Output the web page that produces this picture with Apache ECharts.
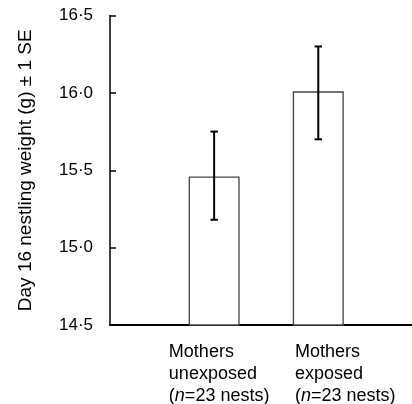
<!DOCTYPE html>
<html>
<head>
<meta charset="utf-8">
<script src="https://cdn.jsdelivr.net/npm/echarts@6/dist/echarts.min.js"></script>
<style>
  html, body { margin: 0; padding: 0; background: #fff; }
  #chart { width: 412px; height: 404px; }
</style>
</head>
<body>
<div id="chart"></div>
<script>
// groups shown on the x axis (value 1, 2)
const groups = ['unexposed', 'exposed']
const groupPos = [1, 2]
// mean day 16 nestling weight (g)
const means = [15.46, 16.01]
// mean - 1 SE / mean + 1 SE
const seLow = [15.18, 15.70]
const seHigh = [15.75, 16.30]
const nestCounts = [23, 23]
const yTicks = ['14·5', '15·0', '15·5', '16·0', '16·5']

const myChart = echarts.init(document.getElementById('chart'))
const font = "'Liberation Sans', Arial, Helvetica, sans-serif"

// each label gets its own left padding so the text blocks sit like in the figure
const labelPad = [10, 54]

const option = {
  animation: false,
  grid: {
    left: 110,
    right: 0,
    top: 15.5,
    bottom: 79,
    outerBoundsMode: 'none'
  },
  xAxis: {
    type: 'value',
    min: 0,
    max: 2.9,
    interval: 1,
    splitLine: { show: false },
    axisTick: { show: false },
    axisLine: {
      show: true,
      lineStyle: { color: '#000', width: 2 }
    },
    axisLabel: {
      margin: 16,
      showMaxLabel: false,
      formatter: function (v) {
        const k = groupPos.indexOf(v)
        if (k < 0) return ''
        const p = 'p' + k
        return '{' + p + '|Mothers}\n{' + p + '|' + groups[k] + '}\n{' + p + '|(}{i|n}{t|=' + nestCounts[k] + ' nests)}'
      },
      rich: {
        p0: { fontSize: 18, fontFamily: font, color: '#000', lineHeight: 22, align: 'left', padding: [0, 0, 0, labelPad[0]] },
        p1: { fontSize: 18, fontFamily: font, color: '#000', lineHeight: 22, align: 'left', padding: [0, 0, 0, labelPad[1]] },
        t: { fontSize: 18, fontFamily: font, color: '#000', lineHeight: 22, align: 'left' },
        i: { fontSize: 18, fontFamily: font, color: '#000', lineHeight: 22, align: 'left', fontStyle: 'italic' }
      }
    }
  },
  yAxis: {
    type: 'value',
    min: 14.5,
    max: 16.5,
    interval: 0.5,
    name: 'Day 16 nestling weight (g) ± 1 SE',
    nameLocation: 'middle',
    nameRotate: 90,
    nameGap: 75,
    nameTextStyle: { fontSize: 19, fontFamily: font, color: '#000' },
    splitLine: { show: false },
    axisLine: {
      show: true,
      lineStyle: { color: '#000', width: 1.5 }
    },
    axisTick: {
      show: true,
      inside: true,
      length: 6,
      lineStyle: { color: '#000', width: 1.5 }
    },
    axisLabel: {
      margin: 17,
      fontSize: 17,
      fontFamily: font,
      color: '#000',
      formatter: function (v) {
        return yTicks[Math.round((v - 14.5) / 0.5)]
      }
    }
  },
  series: [
    {
      type: 'bar',
      barWidth: 51,
      itemStyle: {
        color: '#fff',
        borderColor: '#444',
        borderWidth: 1.3
      },
      data: groupPos.map((x, i) => [x, means[i]])
    },
    {
      type: 'custom',
      z: 5,
      renderItem: function (params, api) {
        const lo = api.coord([api.value(0), api.value(1)])
        const hi = api.coord([api.value(0), api.value(2)])
        const cap = 3.7
        const style = { stroke: '#000', lineWidth: 2 }
        return {
          type: 'group',
          children: [
            { type: 'line', shape: { x1: lo[0], y1: lo[1], x2: hi[0], y2: hi[1] }, style: style },
            { type: 'line', shape: { x1: lo[0] - cap, y1: lo[1], x2: lo[0] + cap, y2: lo[1] }, style: style },
            { type: 'line', shape: { x1: hi[0] - cap, y1: hi[1], x2: hi[0] + cap, y2: hi[1] }, style: style }
          ]
        }
      },
      data: groupPos.map((x, i) => [x, seLow[i], seHigh[i]])
    }
  ]
}
myChart.setOption(option)
</script>
</body>
</html>
